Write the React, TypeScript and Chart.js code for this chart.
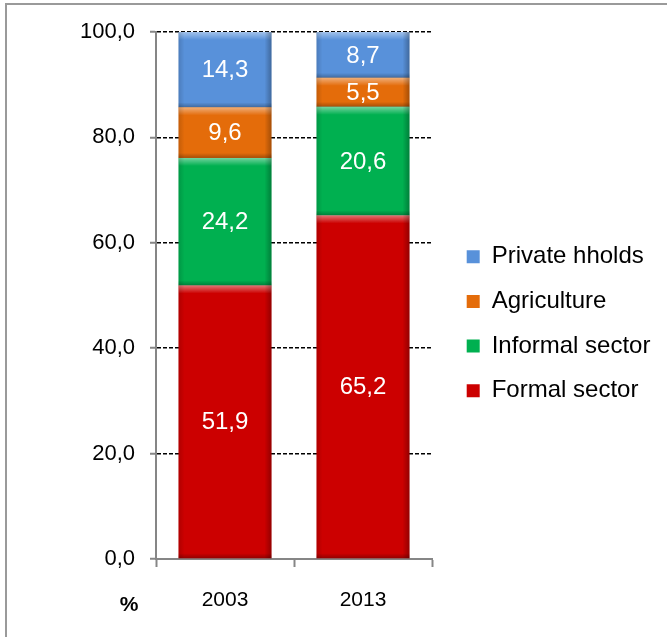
import React, { useEffect, useRef } from 'react';
import { Chart, registerables } from 'chart.js';

Chart.register(...registerables);

// ---- data ----
const years = ['2003', '2013'];
const seriesNames = ['Formal sector', 'Informal sector', 'Agriculture', 'Private hholds'];
const formalSector = [51.9, 65.2];
const informalSector = [24.2, 20.6];
const agriculture = [9.6, 5.5];
const privateHholds = [14.3, 8.7];
const seriesColors = ['#CC0000', '#00B050', '#E46C0A', '#5891DA'];
const yMin = 0;
const yMax = 100;
const yStep = 20;
const unitLabel = '%';

// ---- layout / style ----
const W = 667;
const H = 637;
const FONT = '"Liberation Sans", Arial, sans-serif';
const AREA_LEFT = 156;
const AREA_RIGHT = 432;
const AREA_TOP = 32;
const AREA_BOTTOM = 559;
const PAD_TOP = 10.5;
const LEG_FONT = 24;
const LEG_PAD = 20.7;
const LEG_BOX = 13;
const LEG_OFFSET = 14;
const AXIS_GRAY = '#868686';

const fmt = (v: number) => Number(v).toFixed(1).replace('.', ',');

const decorPlugin = {
  id: 'decor',
  afterDatasetsDraw(chart: any) {
    const ctx = chart.ctx as CanvasRenderingContext2D;
    const rects: any[] = [];
    chart.data.datasets.forEach((ds: any, di: number) => {
      const meta = chart.getDatasetMeta(di);
      if (meta.hidden) return;
      meta.data.forEach((el: any, i: number) => {
        const p = el.getProps(['x', 'y', 'base', 'width'], true);
        const l = p.x - p.width / 2;
        const r = p.x + p.width / 2;
        const t = Math.min(p.y, p.base);
        const b = Math.max(p.y, p.base);
        rects.push({ l, r, t, b, x: p.x, v: ds.data[i] });
      });
    });
    ctx.save();
    for (const q of rects) {
      const w = q.r - q.l;
      const h = q.b - q.t;
      // top highlight
      let g = ctx.createLinearGradient(0, q.t, 0, q.t + 8);
      g.addColorStop(0, 'rgba(255,255,255,0.45)');
      g.addColorStop(1, 'rgba(255,255,255,0)');
      ctx.fillStyle = g;
      ctx.fillRect(q.l, q.t, w, Math.min(8, h));
      // bottom shade
      g = ctx.createLinearGradient(0, q.b, 0, q.b - 5);
      g.addColorStop(0, 'rgba(0,0,0,0.28)');
      g.addColorStop(1, 'rgba(0,0,0,0)');
      ctx.fillStyle = g;
      ctx.fillRect(q.l, q.b - Math.min(5, h), w, Math.min(5, h));
      // right shade
      g = ctx.createLinearGradient(q.r, 0, q.r - 7, 0);
      g.addColorStop(0, 'rgba(0,0,0,0.28)');
      g.addColorStop(1, 'rgba(0,0,0,0)');
      ctx.fillStyle = g;
      ctx.fillRect(q.r - 7, q.t, 7, h);
      // left shade
      g = ctx.createLinearGradient(q.l, 0, q.l + 6, 0);
      g.addColorStop(0, 'rgba(0,0,0,0.14)');
      g.addColorStop(1, 'rgba(0,0,0,0)');
      ctx.fillStyle = g;
      ctx.fillRect(q.l, q.t, 6, h);
    }
    ctx.fillStyle = '#ffffff';
    ctx.font = `24px ${FONT}`;
    ctx.textAlign = 'center';
    ctx.textBaseline = 'middle';
    for (const q of rects) {
      ctx.fillText(fmt(q.v), q.x, (q.t + q.b) / 2 + 1);
    }
    ctx.restore();
  },
  afterDraw(chart: any) {
    const ctx = chart.ctx as CanvasRenderingContext2D;
    const a = chart.chartArea;
    ctx.save();
    ctx.fillStyle = '#000';
    ctx.font = `bold 21px ${FONT}`;
    ctx.textAlign = 'center';
    ctx.textBaseline = 'middle';
    ctx.fillText(unitLabel, a.left - 27, a.bottom + 46);
    ctx.restore();
  },
};

export default function App() {
  const canvasRef = useRef<HTMLCanvasElement | null>(null);

  useEffect(() => {
    const canvas = canvasRef.current;
    if (!canvas) return;
    const mctx = canvas.getContext('2d')!;
    mctx.font = `${LEG_FONT}px ${FONT}`;
    const maxText = Math.max(...seriesNames.map((n) => mctx.measureText(n).width));
    const legendWidth = LEG_PAD + LEG_BOX + LEG_FONT / 2 + maxText + 10;
    const padRight = Math.max(0, W - AREA_RIGHT - LEG_OFFSET - legendWidth);

    const seriesValues = [formalSector, informalSector, agriculture, privateHholds];
    const chart = new Chart(canvas, {
      type: 'bar',
      data: {
        labels: years,
        datasets: seriesNames.map((name, i) => ({
          label: name,
          data: seriesValues[i],
          backgroundColor: seriesColors[i],
          borderWidth: 0,
          barPercentage: 0.674,
          categoryPercentage: 1,
        })),
      },
      options: {
        responsive: false,
        animation: false,
        devicePixelRatio: 1,
        layout: { padding: { top: PAD_TOP, left: 0, bottom: 0, right: padRight } },
        plugins: {
          title: {
            display: true,
            text: '',
            padding: { top: AREA_TOP - PAD_TOP - 10, bottom: 0 },
            font: { size: 10, lineHeight: 1 },
          },
          legend: {
            position: 'right',
            align: 'center',
            reverse: true,
            maxWidth: 400,
            labels: {
              boxWidth: LEG_BOX,
              boxHeight: LEG_BOX,
              padding: LEG_PAD,
              color: '#000',
              font: { family: FONT, size: LEG_FONT },
            },
          },
          tooltip: { enabled: false },
        },
        scales: {
          x: {
            stacked: true,
            offset: true,
            grid: {
              display: true,
              drawOnChartArea: false,
              drawTicks: true,
              tickLength: 8,
              tickColor: AXIS_GRAY,
              tickWidth: 2,
            },
            border: { display: true, color: AXIS_GRAY, width: 2 },
            ticks: { color: '#000', font: { family: FONT, size: 21 }, padding: 21 },
            afterFit: (s: any) => {
              s.height = H - AREA_BOTTOM;
            },
          },
          y: {
            stacked: true,
            min: yMin,
            max: yMax,
            ticks: {
              stepSize: yStep,
              color: '#000',
              font: { family: FONT, size: 22 },
              padding: 15,
              callback: (v: any) => fmt(Number(v)),
            },
            grid: {
              color: (c: any) => (c.tick && c.tick.value === 0 ? 'rgba(0,0,0,0)' : '#000'),
              lineWidth: 1.5,
              tickLength: 6,
              tickColor: AXIS_GRAY,
              tickWidth: 2,
              tickBorderDash: [],
            },
            border: { display: true, color: AXIS_GRAY, width: 2, dash: [4, 2] },
            afterFit: (s: any) => {
              s.width = AREA_LEFT;
            },
          },
          pad: {
            type: 'linear',
            position: 'right',
            display: true,
            grid: { display: false, drawTicks: false },
            ticks: { display: false },
            border: { display: false },
            afterFit: (s: any) => {
              s.width = LEG_OFFSET;
            },
          },
        },
      } as any,
      plugins: [decorPlugin],
    });
    return () => chart.destroy();
  }, []);

  return (
    <div style={{ position: 'absolute', left: 0, top: 0, width: W, height: H, background: '#fff', overflow: 'hidden' }}>
      <div
        style={{
          position: 'absolute',
          left: 5,
          top: 3,
          right: -10,
          bottom: -10,
          borderLeft: '2px solid #9a9a9a',
          borderTop: '2px solid #9a9a9a',
        }}
      />
      <canvas ref={canvasRef} width={W} height={H} style={{ position: 'absolute', left: 0, top: 0, display: 'block' }} />
    </div>
  );
}
